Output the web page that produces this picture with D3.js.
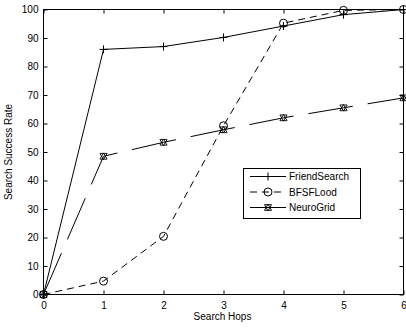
<!DOCTYPE html>
<html>
<head>
<meta charset="utf-8">
<script src="https://cdn.jsdelivr.net/npm/d3@7"></script>
<style>
body { margin: 0; background: #fff; }
text { font-family: "Liberation Sans", Arial, sans-serif; font-size: 10px; fill: #000; }
</style>
</head>
<body>
<svg id="chart" width="406" height="328"></svg>
<script>
// data
var hops = [0, 1, 2, 3, 4, 5, 6];
var friendSearch = [0, 86, 87, 90.2, 94.2, 98.2, 100];
var bfsFlood = [0, 4.7, 20.4, 59.2, 95.2, 99.7, 100];
var neuroGrid = [0, 48.5, 53.4, 57.8, 62, 65.5, 69];
var yTicks = [0, 10, 20, 30, 40, 50, 60, 70, 80, 90, 100];
var seriesNames = ["FriendSearch", "BFSFLood", "NeuroGrid"];

var svg = d3.select("#chart");
var pLeft = 43.5, pRight = 403.5, pTop = 9.5, pBottom = 294.5;

var x = d3.scaleLinear().domain([0, 6]).range([pLeft, pRight]);
var y = d3.scaleLinear().domain([0, 100]).range([pBottom, pTop]);

// axes (ticks inside, box style)
var xAxis = d3.axisBottom(x).tickValues(hops).tickSize(-4).tickPadding(7).tickFormat(d3.format("d"));
var yAxis = d3.axisLeft(y).tickValues(yTicks).tickSize(-4).tickPadding(5);
svg.append("g").attr("transform", "translate(0," + pBottom + ")").call(xAxis);
svg.append("g").attr("transform", "translate(" + pLeft + ",0)").call(yAxis);
svg.append("g").attr("transform", "translate(0," + pTop + ")")
  .call(d3.axisTop(x).tickValues(hops).tickSize(-4).tickFormat(""));
svg.append("g").attr("transform", "translate(" + pRight + ",0)")
  .call(d3.axisRight(y).tickValues(yTicks).tickSize(-4).tickFormat(""));
svg.selectAll(".domain").remove();
svg.selectAll(".tick line").attr("stroke", "#000");
svg.selectAll("g").attr("font-family", null).attr("font-size", null);

svg.append("rect").attr("x", pLeft).attr("y", pTop)
  .attr("width", pRight - pLeft).attr("height", pBottom - pTop)
  .attr("fill", "none").attr("stroke", "#000").attr("stroke-width", 1);

// labels
svg.append("text").attr("x", (pLeft + pRight) / 2 - 1).attr("y", 320)
  .attr("text-anchor", "middle").text("Search Hops");
svg.append("text").attr("transform", "translate(12," + ((pTop + pBottom) / 2) + ") rotate(-90)")
  .attr("text-anchor", "middle").text("Search Success Rate");

var line = d3.line().x(function(d, i) { return x(hops[i]); }).y(function(d) { return y(d); });

var styles = [
  { data: friendSearch, dash: null, marker: "plus" },
  { data: bfsFlood, dash: "7,5", marker: "circle" },
  { data: neuroGrid, dash: "45,15", marker: "star" }
];

function drawMarker(g, type, cx, cy) {
  if (type === "plus") {
    g.append("path").attr("d", "M" + (cx - 4) + "," + cy + "H" + (cx + 4) + "M" + cx + "," + (cy - 4) + "V" + (cy + 4))
      .attr("stroke", "#000").attr("fill", "none");
  } else if (type === "circle") {
    g.append("circle").attr("cx", cx).attr("cy", cy).attr("r", 4)
      .attr("stroke", "#000").attr("fill", "none");
  } else {
    var tri = d3.symbol().type(d3.symbolTriangle).size(22);
    g.append("path").attr("d", tri()).attr("transform", "translate(" + cx + "," + (cy + 0.8) + ")")
      .attr("stroke", "#000").attr("fill", "none").attr("stroke-width", 0.9);
    g.append("path").attr("d", tri()).attr("transform", "translate(" + cx + "," + (cy - 0.8) + ") rotate(180)")
      .attr("stroke", "#000").attr("fill", "none").attr("stroke-width", 0.9);
  }
}

styles.forEach(function(s) {
  svg.append("path").attr("d", line(s.data)).attr("fill", "none")
    .attr("stroke", "#000").attr("stroke-width", 1)
    .attr("stroke-dasharray", s.dash);
  var g = svg.append("g");
  s.data.forEach(function(v, i) { drawMarker(g, s.marker, x(hops[i]), y(v)); });
});

// legend
var lg = svg.append("g");
lg.append("rect").attr("x", 243.5).attr("y", 168.5).attr("width", 117).attr("height", 50)
  .attr("fill", "#fff").attr("stroke", "#000");
styles.forEach(function(s, i) {
  var ly = 176.5 + i * 15.5;
  lg.append("line").attr("x1", 250).attr("x2", 286).attr("y1", ly).attr("y2", ly)
    .attr("stroke", "#000").attr("stroke-dasharray", i === 1 ? "7,5" : null);
  drawMarker(lg, s.marker, 268, ly);
  lg.append("text").attr("x", 289).attr("y", ly + 3.5).text(seriesNames[i]);
});
</script>
</body>
</html>
